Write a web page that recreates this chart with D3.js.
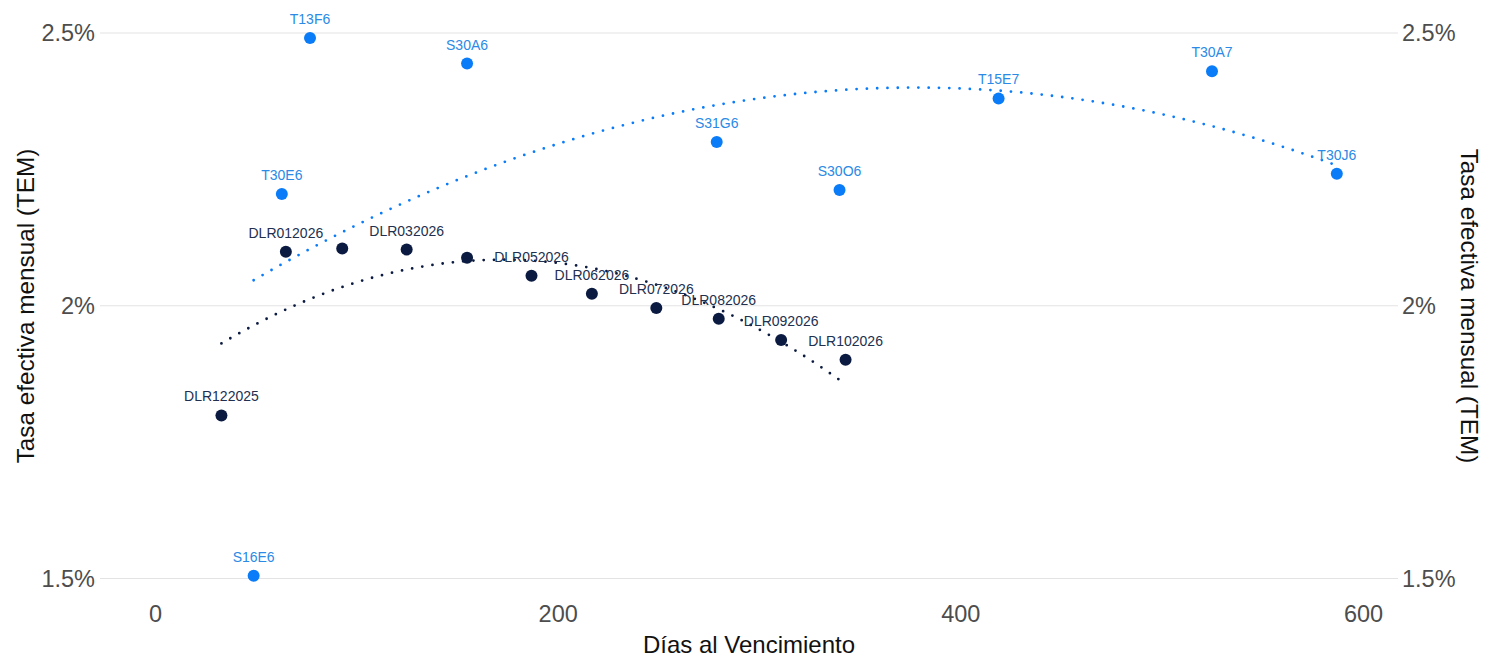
<!DOCTYPE html>
<html>
<head>
<meta charset="utf-8">
<script src="https://cdn.jsdelivr.net/npm/d3@7"></script>
<style>
  body { margin: 0; background: #fff; }
  svg { font-family: "Liberation Sans", Arial, sans-serif; }
</style>
</head>
<body>
<script>
// datos: letras del tesoro (azul) y dollar linked (navy)
var blueNames = ["S16E6", "T30E6", "T13F6", "S30A6", "S31G6", "S30O6", "T15E7", "T30A7", "T30J6"];
var blueDays  = [49, 63, 77, 155, 279, 340, 419, 525, 587];
var blueTem   = [1.505, 2.205, 2.491, 2.444, 2.300, 2.212, 2.380, 2.430, 2.242];

var navyNames = ["DLR122025", "DLR012026", "DLR022026", "DLR032026", "DLR042026", "DLR052026",
                 "DLR062026", "DLR072026", "DLR082026", "DLR092026", "DLR102026"];
var navyDays  = [33, 65, 93, 125, 155, 187, 217, 249, 280, 311, 343];
var navyTem   = [1.799, 2.099, 2.105, 2.103, 2.088, 2.055, 2.022, 1.996, 1.976, 1.937, 1.901];

var xTicks = [0, 200, 400, 600];
var yTicks = [1.5, 2, 2.5];

var W = 1486, H = 657;
var panelLeft = 100, panelRight = 1398;

var x = d3.scaleLinear().domain([0, 600]).range([155, 1363]);
var y = d3.scaleLinear().domain([1.5, 2.5]).range([578.5, 33]);

var blueCol = "#0b7cf7", blueText = "#2a8ae6";
var navyCol = "#0b1a40", navyText = "#22304f";

var svg = d3.select("body").append("svg")
  .attr("width", W)
  .attr("height", H);

// grilla horizontal
svg.append("g").selectAll("line")
  .data(yTicks)
  .join("line")
    .attr("x1", panelLeft).attr("x2", panelRight)
    .attr("y1", d => y(d)).attr("y2", d => y(d))
    .attr("stroke", "#e3e3e3")
    .attr("stroke-width", 1.1);

var fmt = d => d3.format("~g")(d) + "%";

// eje izquierdo
var yLeft = d3.axisLeft(y).tickValues(yTicks).tickFormat(fmt).tickSize(0).tickPadding(5);
var gl = svg.append("g").attr("transform", "translate(" + panelLeft + ",0)").call(yLeft);
gl.select(".domain").remove();
gl.selectAll("text").attr("font-size", 23.5).attr("fill", "#4d4d4d").attr("font-family", null);

// eje derecho
var yRight = d3.axisRight(y).tickValues(yTicks).tickFormat(fmt).tickSize(0).tickPadding(4);
var gr = svg.append("g").attr("transform", "translate(" + panelRight + ",0)").call(yRight);
gr.select(".domain").remove();
gr.selectAll("text").attr("font-size", 23.5).attr("fill", "#4d4d4d").attr("font-family", null);

// eje x
var xAxis = d3.axisBottom(x).tickValues(xTicks).tickSize(0).tickPadding(0);
var gx = svg.append("g").attr("transform", "translate(0,605)").call(xAxis);
gx.select(".domain").remove();
gx.selectAll("text").attr("font-size", 23.5).attr("fill", "#4d4d4d").attr("font-family", null);

// titulos
svg.append("text")
  .attr("x", (panelLeft + panelRight) / 2).attr("y", 653)
  .attr("text-anchor", "middle")
  .attr("font-size", 24).attr("fill", "#111")
  .text("Días al Vencimiento");

svg.append("text")
  .attr("transform", "translate(34,306) rotate(-90)")
  .attr("text-anchor", "middle")
  .attr("font-size", 24.3).attr("fill", "#111")
  .text("Tasa efectiva mensual (TEM)");

svg.append("text")
  .attr("transform", "translate(1461,306) rotate(90)")
  .attr("text-anchor", "middle")
  .attr("font-size", 24.3).attr("fill", "#111")
  .text("Tasa efectiva mensual (TEM)");

// ajuste cuadratico (minimos cuadrados)
function quadFit(xs, ys) {
  var n = xs.length, s = [0, 0, 0, 0, 0], t = [0, 0, 0];
  for (var i = 0; i < n; i++) {
    var p = 1;
    for (var k = 0; k < 5; k++) { s[k] += p; if (k < 3) t[k] += p * ys[i]; p *= xs[i]; }
  }
  var A = [[s[0], s[1], s[2], t[0]], [s[1], s[2], s[3], t[1]], [s[2], s[3], s[4], t[2]]];
  for (var c = 0; c < 3; c++) {
    for (var r = c + 1; r < 3; r++) {
      var f = A[r][c] / A[c][c];
      for (var j = c; j < 4; j++) A[r][j] -= f * A[c][j];
    }
  }
  var b = [0, 0, 0];
  for (var r2 = 2; r2 >= 0; r2--) {
    var v = A[r2][3];
    for (var j2 = r2 + 1; j2 < 3; j2++) v -= A[r2][j2] * b[j2];
    b[r2] = v / A[r2][r2];
  }
  return d => b[0] + b[1] * d + b[2] * d * d;
}

function trend(days, tem, col) {
  var fit = quadFit(days, tem);
  var pts = d3.range(80).map(i => {
    var d = d3.min(days) + (d3.max(days) - d3.min(days)) * i / 79;
    return [d, fit(d)];
  });
  svg.append("path")
    .datum(pts)
    .attr("fill", "none")
    .attr("stroke", col)
    .attr("stroke-width", 2.8)
    .attr("stroke-linecap", "round")
    .attr("stroke-dasharray", "0,10.3")
    .attr("d", d3.line().x(d => x(d[0])).y(d => y(d[1])));
}

trend(blueDays, blueTem, blueCol);
trend(navyDays, navyTem, navyCol);

// puntos
function dots(days, tem, col) {
  svg.append("g").selectAll("circle")
    .data(days)
    .join("circle")
      .attr("cx", d => x(d))
      .attr("cy", (d, i) => y(tem[i]))
      .attr("r", 6)
      .attr("fill", col);
}
dots(navyDays, navyTem, navyCol);
dots(blueDays, blueTem, blueCol);

// etiquetas, con chequeo de superposicion (caja ajustada al texto)
var placed = [];
function labels(names, days, tem, col) {
  names.forEach((n, i) => {
    var t = svg.append("text")
      .attr("x", x(days[i]))
      .attr("y", y(tem[i]) - 14)
      .attr("text-anchor", "middle")
      .attr("font-size", 14)
      .attr("fill", col)
      .text(n);
    var bb = t.node().getBBox();
    var b = { x: bb.x, y: bb.y + 3.5, width: bb.width, height: bb.height - 7 };
    var hit = placed.some(p => b.x < p.x + p.width && p.x < b.x + b.width &&
                               b.y < p.y + p.height && p.y < b.y + b.height);
    if (hit) t.remove(); else placed.push(b);
  });
}
labels(navyNames, navyDays, navyTem, navyText);
labels(blueNames, blueDays, blueTem, blueText);
</script>
</body>
</html>
